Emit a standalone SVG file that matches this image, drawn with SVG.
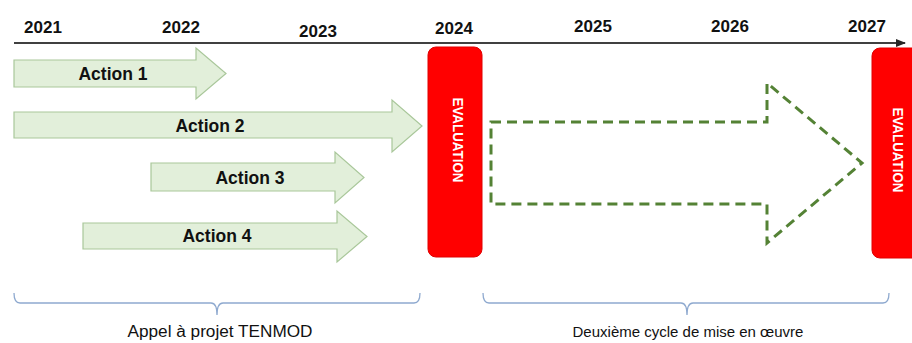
<svg xmlns="http://www.w3.org/2000/svg" width="912" height="343" viewBox="0 0 912 343">
<defs>
<marker id="ah" viewBox="0 0 10 10" refX="9" refY="5" markerWidth="5" markerHeight="5" orient="auto" markerUnits="strokeWidth"><path d="M0,1 L10,5 L0,9 Z" fill="#262626"/></marker>
<style>
.yr{font-family:"Liberation Sans",Arial,sans-serif;font-weight:bold;font-size:17px;fill:#111;text-anchor:middle}
.act{fill:#e2efda;stroke:#a9c79a;stroke-width:1.2}
.al{font-family:"Liberation Sans",Arial,sans-serif;font-weight:bold;font-size:17.5px;fill:#111;text-anchor:middle}
.ev{fill:#ff0000;stroke:#e00000;stroke-width:1}
.evt{font-family:"Liberation Sans",Arial,sans-serif;font-weight:bold;font-size:14px;fill:#fff;text-anchor:middle}
.dash{fill:none;stroke:#548235;stroke-width:3;stroke-dasharray:10 6}
.br{fill:none;stroke:#8ea9cf;stroke-width:1.3}
.bl{font-family:"Liberation Sans",Arial,sans-serif;fill:#111;text-anchor:middle}
</style>
</defs>
<rect width="912" height="343" fill="#fff"/>
<g id="axis">
<line x1="14" y1="43" x2="905" y2="43" stroke="#404040" stroke-width="2" marker-end="url(#ah)"/>
<text class="yr" x="43" y="33">2021</text>
<text class="yr" x="181" y="33">2022</text>
<text class="yr" x="318" y="37">2023</text>
<text class="yr" x="454" y="34">2024</text>
<text class="yr" x="593" y="32">2025</text>
<text class="yr" x="730" y="32">2026</text>
<text class="yr" x="867" y="32">2027</text>
</g>
<g id="action1">
<path class="act" d="M14,60 H196 V48 L226,73.5 L196,99 V87 H14 Z"/>
<text class="al" x="113" y="80">Action 1</text>
</g>
<g id="action2">
<path class="act" d="M14,112 H392 V100 L422,126 L392,152 V138 H14 Z"/>
<text class="al" x="210" y="132">Action 2</text>
</g>
<g id="action3">
<path class="act" d="M151,163 H335 V152 L364,177.5 L335,203 V191 H151 Z"/>
<text class="al" x="250" y="184">Action 3</text>
</g>
<g id="action4">
<path class="act" d="M83,223 H337 V211 L367,236.5 L337,262 V249 H83 Z"/>
<text class="al" x="217" y="242">Action 4</text>
</g>
<g id="eval1">
<rect class="ev" x="428" y="47" width="54" height="210" rx="8"/>
<text class="evt" transform="translate(453,140) rotate(90)" textLength="85" lengthAdjust="spacingAndGlyphs">EVALUATION</text>
</g>
<g id="eval2">
<rect class="ev" x="872" y="48" width="54" height="210" rx="8"/>
<text class="evt" transform="translate(893,150) rotate(90)" textLength="85" lengthAdjust="spacingAndGlyphs">EVALUATION</text>
</g>
<g id="cycle2">
<path class="dash" d="M491,122 H767 V83 L862,163 L767,243 V204 H491 Z"/>
</g>
<g id="connectors">
<path class="br" d="M14,293 Q14,303 20,303 H211 Q217,303 217,315 Q217,303 223,303 H414 Q420,303 420,293"/>
<path class="br" d="M483,293 Q483,303 489,303 H681 Q687,303 687,315 Q687,303 693,303 H883 Q889,303 889,293"/>
</g>
<g id="labels">
<text class="bl" x="220" y="337" font-size="16" textLength="185" lengthAdjust="spacingAndGlyphs">Appel à projet TENMOD</text>
<text class="bl" x="688" y="337" font-size="15">Deuxième cycle de mise en œuvre</text>
</g>
</svg>
